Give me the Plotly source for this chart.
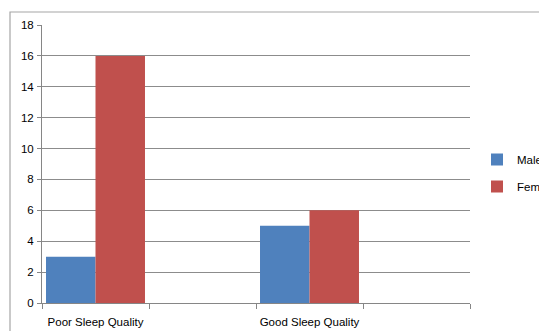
import plotly.graph_objects as go

categories = ["Poor Sleep Quality", " ", "Good Sleep Quality", "  "]
data_categories = ["Poor Sleep Quality", "Good Sleep Quality"]
male = [3, 5]
female = [16, 6]
y_ticks = [0, 2, 4, 6, 8, 10, 12, 14, 16, 18]

W, H = 539, 331
L, R, T, B = 42, 69, 25, 28
pw, ph = W - L - R, H - T - B

font = dict(family="Liberation Sans, Arial, sans-serif", size=11, color="#000000")
xfont = dict(family="Liberation Sans, Arial, sans-serif", size=11.5, color="#000000")
yfont = dict(family="Liberation Sans, Arial, sans-serif", size=11.5, color="#000000")

fig = go.Figure()
fig.add_trace(go.Bar(name="Male", x=data_categories, y=male, marker=dict(color="#4F81BD", line=dict(width=0)),
                     legendgroup="m"))
fig.add_trace(go.Bar(name="Female", x=data_categories, y=female, marker=dict(color="#C0504D", line=dict(width=0)),
                     legendgroup="f"))

fig.update_layout(
    width=W, height=H,
    margin=dict(l=L, r=R, t=T, b=B, pad=0, autoexpand=False),
    paper_bgcolor="white", plot_bgcolor="white",
    barmode="group", bargap=0.075, bargroupgap=0,
    font=font,
    showlegend=True,
    legend=dict(x=(477 - L) / pw, xanchor="left", y=(303 - 173) / ph, yanchor="middle",
                font=xfont, traceorder="grouped", tracegroupgap=8,
                bgcolor="rgba(0,0,0,0)", itemwidth=30),
    xaxis=dict(type="category", categoryorder="array", categoryarray=categories,
               range=[-0.5, 3.5], tickson="boundaries", ticks="outside", ticklen=5,
               tickcolor="#868686", showline=True, linecolor="#868686", linewidth=1,
               showgrid=False, zeroline=False, tickfont=xfont, tickangle=0, automargin=False,
               ticklabelstandoff=8),
    yaxis=dict(range=[0, 18], tickvals=y_ticks, ticks="outside", ticklen=4,
               tickcolor="#868686", showline=True, linecolor="#868686", linewidth=1,
               showgrid=True, gridcolor="#8C8C8C", gridwidth=1, zeroline=False,
               tickfont=yfont, ticklabelstandoff=1, automargin=False),
    shapes=[dict(type="rect", xref="paper", yref="paper",
                 x0=(10 - L) / pw, x1=1.3, y0=-0.3, y1=(303 - 12) / ph,
                 line=dict(color="#A6A6A6", width=1.2), fillcolor="rgba(0,0,0,0)", layer="above")],
)

fig.write_html("out.html")
